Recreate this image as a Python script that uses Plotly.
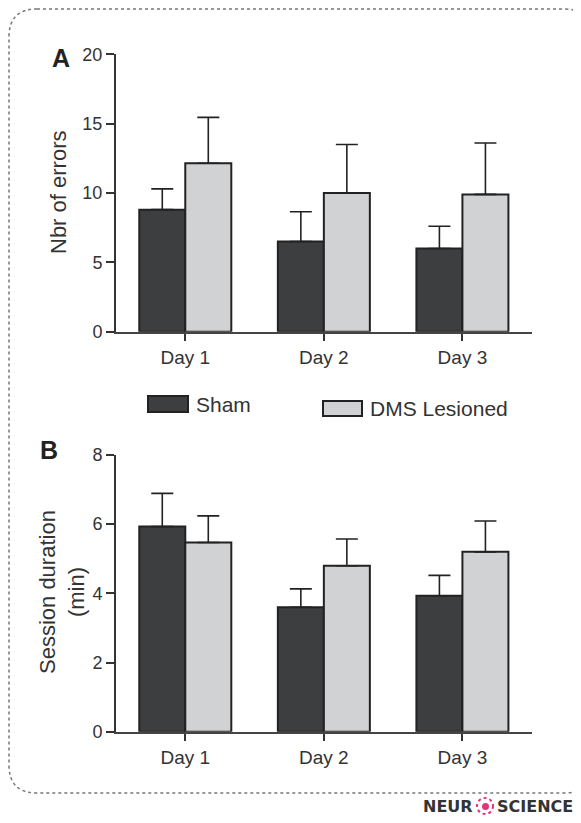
import plotly.graph_objects as go

W, H = 581, 823
OFF = 8  # page body margin in the browser

days = ["Day 1", "Day 2", "Day 3"]
series_names = ["Sham", "DMS Lesioned"]

# Panel A: number of errors
errors_sham = [8.8, 6.5, 6.0]
errors_sham_sem = [1.5, 2.15, 1.6]
errors_dms = [12.15, 10.0, 9.9]
errors_dms_sem = [3.3, 3.5, 3.7]

# Panel B: session duration (min)
duration_sham = [5.93, 3.6, 3.93]
duration_sham_sem = [0.96, 0.53, 0.59]
duration_dms = [5.47, 4.8, 5.2]
duration_dms_sem = [0.77, 0.77, 0.89]

ticks_a = [0, 5, 10, 15, 20]
ticks_b = [0, 2, 4, 6, 8]

SHAM_FILL = "#3d3e40"
DMS_FILL = "#d1d2d4"
EDGE = "#222222"
FONT = "Liberation Sans, Arial, sans-serif"


def px(x):
    return (x - OFF) / W


def py(y):
    return 1 - (y - OFF) / H


def err(vals):
    return dict(type="data", array=vals, arrayminus=[0] * len(vals), symmetric=False,
                color=EDGE, thickness=1.6, width=11)


fig = go.Figure()
fig.add_trace(go.Bar(x=days, y=errors_sham, name=series_names[0], marker=dict(color=SHAM_FILL, line=dict(color=EDGE, width=2)),
                     error_y=err(errors_sham_sem), xaxis="x", yaxis="y", showlegend=False))
fig.add_trace(go.Bar(x=days, y=errors_dms, name=series_names[1], marker=dict(color=DMS_FILL, line=dict(color=EDGE, width=2)),
                     error_y=err(errors_dms_sem), xaxis="x", yaxis="y", showlegend=False))
fig.add_trace(go.Bar(x=days, y=duration_sham, name=series_names[0], marker=dict(color=SHAM_FILL, line=dict(color=EDGE, width=2)),
                     error_y=err(duration_sham_sem), xaxis="x2", yaxis="y2", showlegend=False))
fig.add_trace(go.Bar(x=days, y=duration_dms, name=series_names[1], marker=dict(color=DMS_FILL, line=dict(color=EDGE, width=2)),
                     error_y=err(duration_dms_sem), xaxis="x2", yaxis="y2", showlegend=False))

xdom = [px(116), px(531.7)]
xcommon = dict(domain=xdom, type="category", range=[-0.5, 2.5], showline=True, linewidth=2, linecolor="#444",
               ticks="outside", ticklen=7, tickwidth=1.6, tickcolor="#333", showgrid=False, zeroline=False,
               automargin=False, tickfont=dict(family=FONT, size=19, color="#333"))
ycommon = dict(showline=True, linewidth=2, linecolor="#333", ticks="outside", ticklen=8, tickwidth=1.6,
               tickcolor="#333", showgrid=False, zeroline=False, automargin=False,
               tickfont=dict(family=FONT, size=18, color="#333"))

fig.update_layout(
    template="none",
    width=W, height=H, margin=dict(l=0, r=0, t=0, b=0, pad=0), autosize=False,
    font=dict(family=FONT, color="#333"),
    paper_bgcolor="white", plot_bgcolor="white",
    barmode="group", bargap=0.336, bargroupgap=0,
    xaxis=dict(anchor="y", **xcommon),
    xaxis2=dict(anchor="y2", **xcommon),
    yaxis=dict(anchor="x", domain=[py(331.7), py(54.3)], range=[0, 20], tickvals=ticks_a, **ycommon),
    yaxis2=dict(anchor="x2", domain=[py(731.7), py(455)], range=[0, 8], tickvals=ticks_b, **ycommon),
    showlegend=False,
)

ann = []
# Panel letters
ann.append(dict(x=px(61), y=py(58), text="<b>A</b>", font=dict(family=FONT, size=25, color="#222")))
ann.append(dict(x=px(49), y=py(450), text="<b>B</b>", font=dict(family=FONT, size=25, color="#222")))
# Axis titles
ann.append(dict(x=px(59), y=py(193), text="Nbr of errors", textangle=-90,
                font=dict(family=FONT, size=22, color="#333")))
ann.append(dict(x=px(62), y=py(592), text="Session duration<br>(min)", textangle=-90,
                font=dict(family=FONT, size=22, color="#333")))
# Legend labels
ann.append(dict(x=px(194), y=py(404), xanchor="left", text=series_names[0],
                font=dict(family=FONT, size=21, color="#333")))
ann.append(dict(x=px(368), y=py(408), xanchor="left", text=series_names[1],
                font=dict(family=FONT, size=21, color="#333")))
# Logo
ann.append(dict(x=px(475), y=py(806), xanchor="right", text="<b>NEUR</b>",
                font=dict(family="DejaVu Sans, sans-serif", size=16, color="#333")))
ann.append(dict(x=px(495), y=py(806), xanchor="left", text="<b>SCIENCE</b>",
                font=dict(family="DejaVu Sans, sans-serif", size=16, color="#333")))
for a in ann:
    a.setdefault("xanchor", "center")
    a.setdefault("yanchor", "middle")
    a.update(xref="paper", yref="paper", showarrow=False)
fig.update_layout(annotations=ann)

shapes = []
# Legend boxes
shapes.append(dict(type="rect", x0=px(148), x1=px(188), y0=py(412), y1=py(396),
                   fillcolor=SHAM_FILL, line=dict(color=EDGE, width=2)))
shapes.append(dict(type="rect", x0=px(323), x1=px(362), y0=py(416), y1=py(401),
                   fillcolor=DMS_FILL, line=dict(color=EDGE, width=2)))

# Dotted rounded border
L, T, R, B, r = 9, 9, 592, 793, 28


def P(x, y):
    return f"{px(x):.5f},{py(y):.5f}"


path = (f"M {P(L + r, T)} L {P(R - r, T)} Q {P(R, T)} {P(R, T + r)} L {P(R, B - r)} "
        f"Q {P(R, B)} {P(R - r, B)} L {P(L + r, B)} Q {P(L, B)} {P(L, B - r)} "
        f"L {P(L, T + r)} Q {P(L, T)} {P(L + r, T)} Z")
shapes.append(dict(type="path", path=path, line=dict(color="#777", width=1.5, dash="dot")))

# Logo mark
shapes.append(dict(type="circle", x0=px(477), x1=px(493), y0=py(814), y1=py(798),
                   line=dict(color="#e2337f", width=2, dash="dot")))
shapes.append(dict(type="circle", x0=px(482), x1=px(489), y0=py(810), y1=py(803),
                   fillcolor="#e2337f", line=dict(width=0)))
for s in shapes:
    s.update(xref="paper", yref="paper")
fig.update_layout(shapes=shapes)

fig.write_html("out.html")
